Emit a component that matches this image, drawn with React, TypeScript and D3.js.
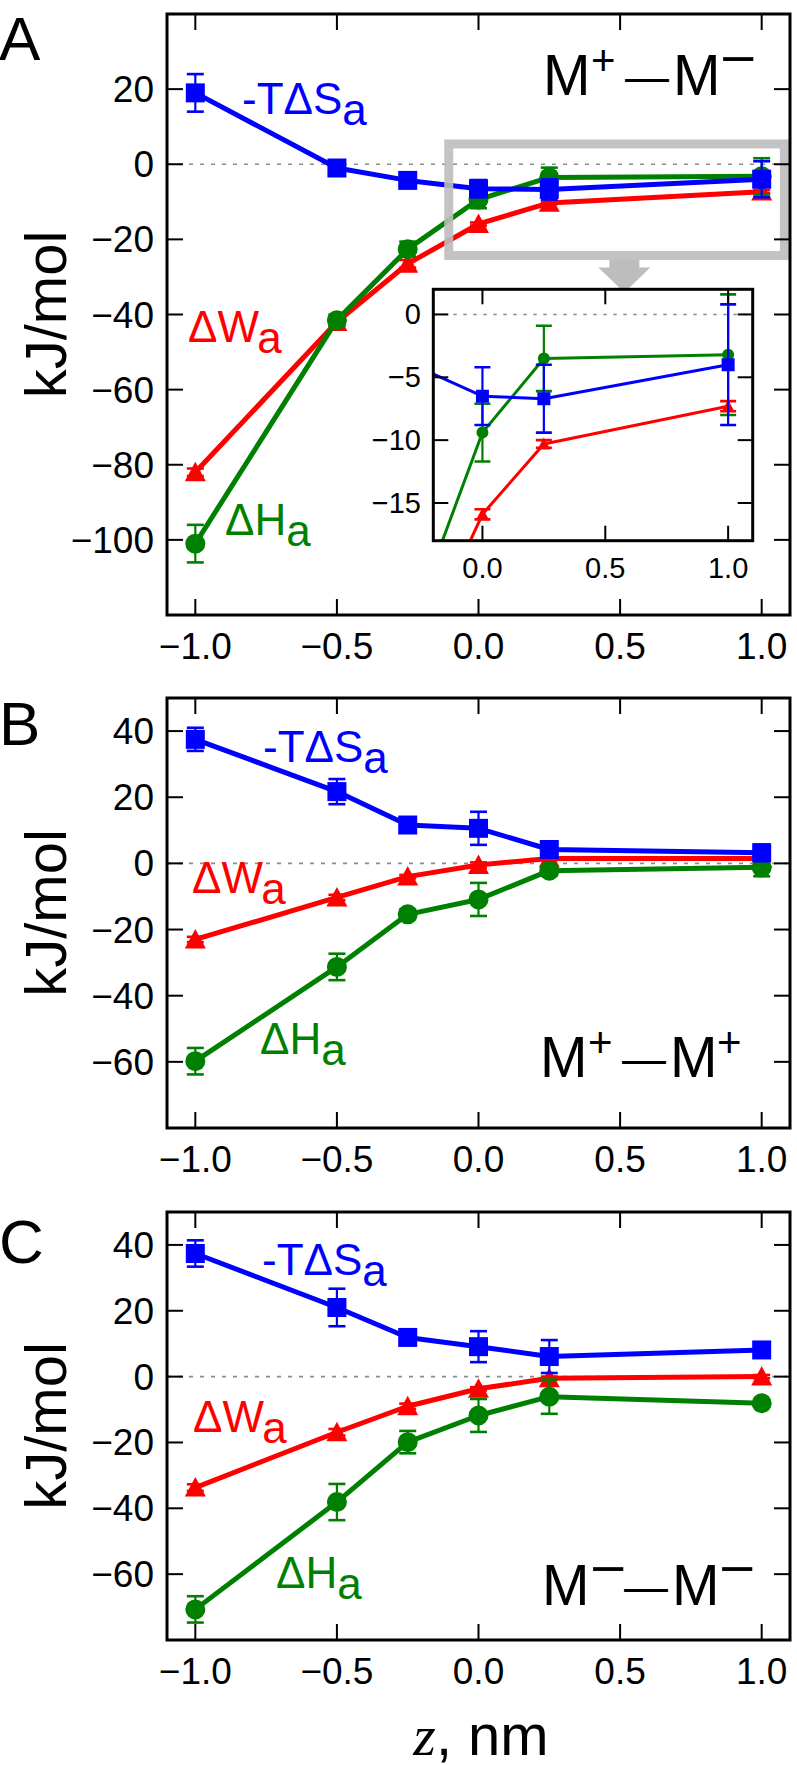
import React from 'react';
import * as d3 from 'd3';

// ---------------- data ----------------
const zValues = [-1.0, -0.5, -0.25, 0.0, 0.25, 1.0];

// Panel A: M+ — M−
const aTdS = [19, -1, -4.3, -6.5, -6.7, -4.0];
const aTdSErr = [5, 1, 1.5, 2.3, 2.7, 4.8];
const aDW = [-82, -42, -26.5, -15.9, -10.3, -7.3];
const aDWErr = [1, 1, 1, 0.4, 0.3, 0.4];
const aDH = [-101, -41.5, -22.6, -9.4, -3.5, -3.2];
const aDHErr = [5, 1.5, 2, 2.3, 2.6, 4.8];

// Panel B: M+ — M+
const bTdS = [37.5, 21.7, 11.6, 10.6, 4.2, 3.2];
const bTdSErr = [3.5, 3.8, 1.5, 5, 1, 2.5];
const bDW = [-23, -10.3, -4, -0.5, 1.5, 1.5];
const bDWErr = [0.8, 0.8, 0.5, 0.8, 0.5, 0.5];
const bDH = [-59.8, -31.3, -15.4, -10.9, -2.2, -1.2];
const bDHErr = [4, 4, 1.5, 5, 1.5, 2.7];

// Panel C: M− — M−
const cTdS = [37.4, 21, 11.9, 9.1, 6.1, 8.1];
const cTdSErr = [4, 5.7, 2, 4.7, 5, 1];
const cDW = [-33.7, -16.9, -9, -3.7, -0.5, 0];
const cDWErr = [1, 1, 0.8, 0.5, 0.5, 0.5];
const cDH = [-70.7, -38.1, -19.9, -11.8, -6.1, -8.1];
const cDHErr = [4, 5.5, 3.4, 5, 5.2, 1];

const xTicks = [-1.0, -0.5, 0.0, 0.5, 1.0];
const yTicksA = [20, 0, -20, -40, -60, -80, -100];
const yTicksBC = [40, 20, 0, -20, -40, -60];
const insetXTicks = [0.0, 0.5, 1.0];
const insetYTicks = [0, -5, -10, -15];

const xDomain: [number, number] = [-1.1, 1.1];
const yDomainA: [number, number] = [-120, 40];
const yDomainBC: [number, number] = [-80, 50];
const insetXDomain: [number, number] = [-0.2, 1.1];
const insetYDomain: [number, number] = [-18, 2];
const zoomBoxX: [number, number] = [-0.105, 1.08];
const zoomBoxY: [number, number] = [-24.3, 5.4];

// ---------------- style ----------------
const FONT = "'Liberation Sans', Arial, Helvetica, sans-serif";
const BLUE = '#0000ff';
const RED = '#ff0000';
const GREEN = '#008000';
const W = 797;
const H = 1765;
const X_LEFT = 167;
const X_RIGHT = 790;

type Series = { vals: number[]; errs: number[]; color: string; marker: 'square' | 'circle' | 'triangle' };

const fmtX = d3.format('.1f');
const fmtY = d3.format('d');

function markerPath(kind: string, cx: number, cy: number, s: number) {
  const h = s / 2;
  if (kind === 'square') return `M${cx - h},${cy - h}h${s}v${s}h${-s}Z`;
  if (kind === 'triangle') return `M${cx},${cy - h}L${cx + h},${cy + h * 0.85}L${cx - h},${cy + h * 0.85}Z`;
  const r = h;
  return `M${cx - r},${cy}a${r},${r} 0 1,0 ${2 * r},0a${r},${r} 0 1,0 ${-2 * r},0Z`;
}

function SeriesMarks({ s, x, y, lw, ms, cap, clip }: any) {
  const line = d3.line<number>().x((_, i) => x(zValues[i])).y((v) => y(v));
  return (
    <g clipPath={clip}>
      <path d={line(s.vals) || ''} fill="none" stroke={s.color} strokeWidth={lw} strokeLinejoin="round" />
      {s.vals.map((v: number, i: number) => {
        const cx = x(zValues[i]);
        const y1 = y(v + s.errs[i]);
        const y2 = y(v - s.errs[i]);
        return (
          <g key={i} stroke={s.color} strokeWidth={2.2}>
            <line x1={cx} x2={cx} y1={y1} y2={y2} />
            <line x1={cx - cap / 2} x2={cx + cap / 2} y1={y1} y2={y1} strokeWidth={2.6} />
            <line x1={cx - cap / 2} x2={cx + cap / 2} y1={y2} y2={y2} strokeWidth={2.6} />
          </g>
        );
      })}
      {s.vals.map((v: number, i: number) => (
        <path key={'m' + i} d={markerPath(s.marker, x(zValues[i]), y(v), ms[s.marker])} fill={s.color} />
      ))}
    </g>
  );
}

function MLabel({ x, y, left, right }: { x: number; y: number; left: string; right: string }) {
  const sup = (ch: string, dx: number) =>
    ch === '+' ? (
      <text x={x + dx} y={y - 20} fontSize={42} fontFamily={FONT}>+</text>
    ) : (
      <text x={x + dx} y={y - 18} fontSize={54} fontFamily={FONT} transform={`translate(${x + dx},0) scale(1.15,1) translate(${-(x + dx)},0)`}>−</text>
    );
  return (
    <g fill="#000">
      <text x={x - 4} y={y} fontSize={57} fontFamily={FONT}>M</text>
      {sup(left, 44)}
      <text x={x + 78} y={y - 3} fontSize={44} fontFamily={FONT}>—</text>
      <text x={x + 126} y={y} fontSize={57} fontFamily={FONT}>M</text>
      {sup(right, 173)}
    </g>
  );
}

function SeriesLabel({ x, y, color, main }: { x: number; y: number; color: string; main: string }) {
  return (
    <text x={x} y={y} fill={color} fontSize={44} fontFamily={FONT}>
      {main}
      <tspan dy={11}>a</tspan>
    </text>
  );
}

function Panel({ top, bottom, yDomain, yTicks, series, letter, children }: any) {
  const x = d3.scaleLinear().domain(xDomain).range([X_LEFT, X_RIGHT]);
  const y = d3.scaleLinear().domain(yDomain).range([bottom, top]);
  const tl = 16;
  const ms = { square: 19, circle: 20, triangle: 21 };
  return (
    <g>
      <line x1={X_LEFT} x2={X_RIGHT} y1={y(0)} y2={y(0)} stroke="#8c8c8c" strokeWidth={1.6} strokeDasharray="4 7" />
      {series.map((s: Series, i: number) => (
        <SeriesMarks key={i} s={s} x={x} y={y} lw={5} ms={ms} cap={17} />
      ))}
      {children && children(x, y)}
      {/* ticks */}
      <g stroke="#000" strokeWidth={2}>
        {yTicks.map((t: number) => (
          <g key={'y' + t}>
            <line x1={X_LEFT} x2={X_LEFT + tl} y1={y(t)} y2={y(t)} />
            <line x1={X_RIGHT - tl} x2={X_RIGHT} y1={y(t)} y2={y(t)} />
          </g>
        ))}
        {xTicks.map((t) => (
          <g key={'x' + t}>
            <line x1={x(t)} x2={x(t)} y1={top} y2={top + tl} />
            <line x1={x(t)} x2={x(t)} y1={bottom - tl} y2={bottom} />
          </g>
        ))}
      </g>
      <rect x={X_LEFT} y={top} width={X_RIGHT - X_LEFT} height={bottom - top} fill="none" stroke="#000" strokeWidth={3} />
      {yTicks.map((t: number) => (
        <text key={'yl' + t} x={154} y={y(t) + 13} textAnchor="end" fontSize={37} fontFamily={FONT}>
          {fmtY(t)}
        </text>
      ))}
      {xTicks.map((t) => (
        <text key={'xl' + t} x={x(t)} y={bottom + 44} textAnchor="middle" fontSize={37} fontFamily={FONT}>
          {fmtX(t)}
        </text>
      ))}
      <text x={66} y={(top + bottom) / 2} fontSize={58} fontFamily={FONT} textAnchor="middle"
        transform={`rotate(-90, 66, ${(top + bottom) / 2})`}>
        kJ/mol
      </text>
      <text x={-1} y={letter.y} fontSize={62} fontFamily={FONT}>{letter.t}</text>
    </g>
  );
}

function Inset({ series }: { series: Series[] }) {
  const x = d3.scaleLinear().domain(insetXDomain).range([433.3, 752.7]);
  const y = d3.scaleLinear().domain(insetYDomain).range([540.7, 289.3]);
  const [x0, x1] = x.range();
  const [y0, y1] = [y.range()[1], y.range()[0]];
  const tl = 15;
  const ms = { square: 13, circle: 12, triangle: 13 };
  return (
    <g>
      <defs>
        <clipPath id="insetClip">
          <rect x={x0} y={y0} width={x1 - x0} height={y1 - y0} />
        </clipPath>
      </defs>
      <rect x={x0} y={y0} width={x1 - x0} height={y1 - y0} fill="#fff" />
      <line x1={x0} x2={x1} y1={y(0)} y2={y(0)} stroke="#8c8c8c" strokeWidth={1.4} strokeDasharray="3.5 6.5" />
      {series.map((s, i) => (
        <SeriesMarks key={i} s={s} x={x} y={y} lw={3} ms={ms} cap={16} clip="url(#insetClip)" />
      ))}
      <g stroke="#000" strokeWidth={2}>
        {insetYTicks.map((t) => (
          <g key={'iy' + t}>
            <line x1={x0} x2={x0 + tl} y1={y(t)} y2={y(t)} />
            <line x1={x1 - tl} x2={x1} y1={y(t)} y2={y(t)} />
          </g>
        ))}
        {insetXTicks.map((t) => (
          <g key={'ix' + t}>
            <line x1={x(t)} x2={x(t)} y1={y0} y2={y0 + tl} />
            <line x1={x(t)} x2={x(t)} y1={y1 - tl} y2={y1} />
          </g>
        ))}
      </g>
      <rect x={x0} y={y0} width={x1 - x0} height={y1 - y0} fill="none" stroke="#000" strokeWidth={3} />
      {insetYTicks.map((t) => (
        <text key={'iyl' + t} x={421} y={y(t) + 10} textAnchor="end" fontSize={29} fontFamily={FONT}>
          {fmtY(t)}
        </text>
      ))}
      {insetXTicks.map((t) => (
        <text key={'ixl' + t} x={x(t)} y={y1 + 37} textAnchor="middle" fontSize={29} fontFamily={FONT}>
          {fmtX(t)}
        </text>
      ))}
    </g>
  );
}

export default function App() {
  const seriesA: Series[] = [
    { vals: aDW, errs: aDWErr, color: RED, marker: 'triangle' },
    { vals: aDH, errs: aDHErr, color: GREEN, marker: 'circle' },
    { vals: aTdS, errs: aTdSErr, color: BLUE, marker: 'square' },
  ];
  const seriesB: Series[] = [
    { vals: bDW, errs: bDWErr, color: RED, marker: 'triangle' },
    { vals: bDH, errs: bDHErr, color: GREEN, marker: 'circle' },
    { vals: bTdS, errs: bTdSErr, color: BLUE, marker: 'square' },
  ];
  const seriesC: Series[] = [
    { vals: cDW, errs: cDWErr, color: RED, marker: 'triangle' },
    { vals: cDH, errs: cDHErr, color: GREEN, marker: 'circle' },
    { vals: cTdS, errs: cTdSErr, color: BLUE, marker: 'square' },
  ];

  return (
    <svg width={W} height={H} viewBox={`0 0 ${W} ${H}`}
      style={{ position: 'absolute', left: 0, top: 0, display: 'block', background: '#fff' }}>
      <rect width={W} height={H} fill="#fff" />
      <Panel top={14} bottom={615} yDomain={yDomainA} yTicks={yTicksA} series={seriesA} letter={{ t: 'A', y: 60 }}>
        {(x: any, y: any) => {
          const bx0 = x(zoomBoxX[0]);
          const bx1 = x(zoomBoxX[1]);
          const by0 = y(zoomBoxY[1]);
          const by1 = y(zoomBoxY[0]);
          const ax = x(0.515);
          return (
            <g>
              <rect x={bx0} y={by0} width={bx1 - bx0} height={by1 - by0} fill="none" stroke="#bdbdbd" strokeWidth={9} opacity={0.9} />
              <path d={`M${ax - 15},${by1 + 4}h30v8h11l-26,25l-26,-25h11Z`} fill="#bdbdbd" />
            </g>
          );
        }}
      </Panel>
      <Inset series={seriesA} />
      <SeriesLabel x={242} y={114} color={BLUE} main="-TΔS" />
      <SeriesLabel x={188} y={342} color={RED} main="ΔW" />
      <SeriesLabel x={225} y={535} color={GREEN} main="ΔH" />
      <MLabel x={547} y={95} left="+" right="−" />

      <Panel top={698} bottom={1128} yDomain={yDomainBC} yTicks={yTicksBC} series={seriesB} letter={{ t: 'B', y: 745 }} />
      <SeriesLabel x={263} y={762} color={BLUE} main="-TΔS" />
      <SeriesLabel x={192} y={893} color={RED} main="ΔW" />
      <SeriesLabel x={260} y={1054} color={GREEN} main="ΔH" />
      <MLabel x={544} y={1077} left="+" right="+" />

      <Panel top={1212} bottom={1640} yDomain={yDomainBC} yTicks={yTicksBC} series={seriesC} letter={{ t: 'C', y: 1263 }} />
      <SeriesLabel x={262} y={1275} color={BLUE} main="-TΔS" />
      <SeriesLabel x={193} y={1432} color={RED} main="ΔW" />
      <SeriesLabel x={276} y={1588} color={GREEN} main="ΔH" />
      <MLabel x={546} y={1605} left="−" right="−" />

      <text x={481} y={1755} textAnchor="middle" fontSize={58} fontFamily={FONT}>
        <tspan fontFamily="'Liberation Serif', 'DejaVu Serif', serif" fontStyle="italic">z</tspan>, nm
      </text>
    </svg>
  );
}
